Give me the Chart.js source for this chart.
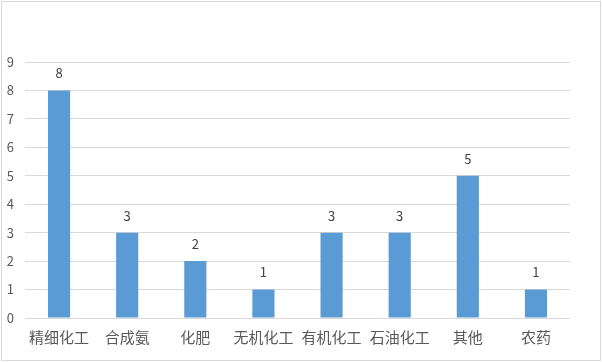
<!DOCTYPE html>
<html><head><meta charset="utf-8">
<script src="https://cdn.jsdelivr.net/npm/chart.js@4/dist/chart.umd.min.js"></script>
<style>
html,body{margin:0;padding:0;background:#fff;}
#wrap{position:absolute;left:0;top:0;width:602px;height:362px;}
#frame{position:absolute;left:1px;top:1px;width:598px;height:358px;border:1px solid #d9d9d9;pointer-events:none;}
canvas{position:absolute;left:0;top:0;}
</style></head>
<body>
<div id="wrap"><canvas id="c" width="602" height="362"></canvas><div id="frame"></div></div>
<script>
const categories = ['精细化工','合成氨','化肥','无机化工','有机化工','石油化工','其他','农药'];
const values = [8,3,2,1,3,3,5,1];
const yTicks = [0,1,2,3,4,5,6,7,8,9];

const FONT = '"Noto Sans CJK SC","Microsoft YaHei",sans-serif';

const labelPlugin = {
  id: 'barLabels',
  afterDatasetsDraw(chart) {
    const ctx = chart.ctx;
    const meta = chart.getDatasetMeta(0);
    ctx.save();
    ctx.fillStyle = '#404040';
    ctx.font = '13px ' + FONT;
    ctx.textAlign = 'center';
    ctx.textBaseline = 'middle';
    meta.data.forEach((bar, i) => {
      ctx.fillText(String(values[i]), bar.x, bar.y - 17);
    });
    ctx.restore();
  }
};

new Chart(document.getElementById('c'), {
  type: 'bar',
  data: {
    labels: categories,
    datasets: [{
      data: values,
      backgroundColor: '#5B9BD5',
      borderWidth: 0,
      barPercentage: 0.65,
      categoryPercentage: 0.5
    }]
  },
  options: {
    responsive: false,
    animation: false,
    layout: { padding: { top: 62, right: 32, bottom: 0, left: 0 } },
    plugins: { legend: { display: false }, tooltip: { enabled: false } },
    scales: {
      x: {
        grid: { display: false },
        border: { display: false },
        ticks: { color: '#595959', font: { size: 15, family: FONT }, padding: 2, maxRotation: 0, autoSkip: false },
        afterFit(scale) { scale.height = 44; }
      },
      y: {
        min: 0, max: 9,
        afterBuildTicks(scale) { scale.ticks = yTicks.map(v => ({ value: v })); },
        grid: { color: '#d9d9d9', drawTicks: false, lineWidth: 1 },
        border: { display: false },
        ticks: { color: '#595959', font: { size: 13, family: FONT }, padding: 11 },
        afterFit(scale) { scale.width = 25; }
      }
    }
  },
  plugins: [labelPlugin]
});
</script>
</body></html>
